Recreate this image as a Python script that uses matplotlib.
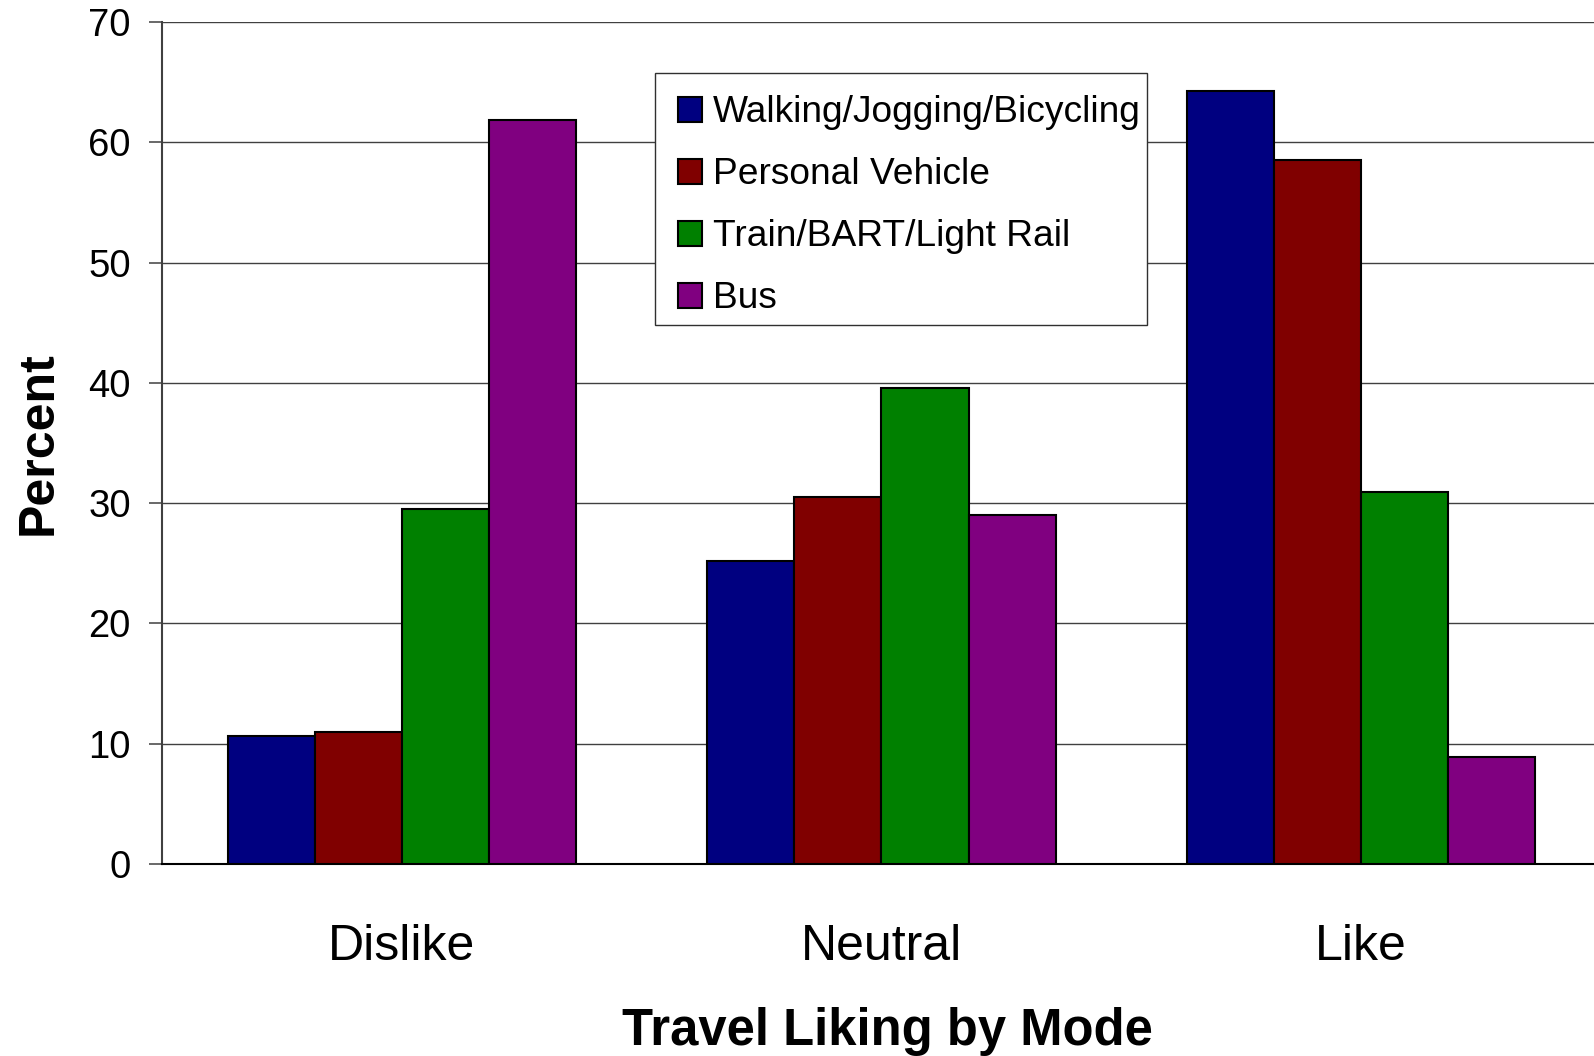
import matplotlib.pyplot as plt
import numpy as np
from matplotlib.patches import Rectangle

plt.rcParams['font.family'] = ['Liberation Sans', 'DejaVu Sans']

categories = ['Dislike', 'Neutral', 'Like']
modes = ['Walking/Jogging/Bicycling', 'Personal Vehicle',
         'Train/BART/Light Rail', 'Bus']
walking = [10.6, 25.2, 64.3]
vehicle = [10.95, 30.5, 58.5]
train = [29.5, 39.6, 30.9]
bus = [61.85, 29.0, 8.9]
colors = ['#000080', '#800000', '#008000', '#800080']

series = [walking, vehicle, train, bus]

fig = plt.figure(figsize=(15.94, 10.56), dpi=100)
ax = fig.add_axes([0.10163, 0.18182, 0.90276, 0.79735])

x = np.arange(len(categories))
w = 0.1814
bars = []
for i, (vals, c) in enumerate(zip(series, colors)):
    b = ax.bar(x + (i - 1.5) * w, vals, w, color=c, edgecolor='black',
               linewidth=1.5, zorder=3)
    bars.append(b)

ax.set_xlim(-0.5, 2.5)
ax.set_ylim(0, 70)
ax.set_yticks(range(0, 71, 10))
ax.yaxis.grid(True, color='#404040', linewidth=1.0, zorder=0)
ax.set_axisbelow(True)

ax.spines['top'].set_visible(False)
ax.spines['right'].set_visible(False)
ax.spines['left'].set_color('#404040')
ax.spines['left'].set_linewidth(1.5)
ax.spines['bottom'].set_color('black')
ax.spines['bottom'].set_linewidth(1.5)

ax.tick_params(axis='y', labelsize=27.5, length=9.4, width=1.1,
               color='#404040', pad=13)
ax.set_xticks(x)
ax.set_xticklabels(categories)
ax.tick_params(axis='x', labelsize=36, length=0, pad=43)

ax.set_xlabel('Travel Liking by Mode', fontsize=36.5, fontweight='bold',
              labelpad=26.5)
ax.xaxis.label.set_x(0.504)
ax.set_ylabel('Percent', fontsize=36, fontweight='bold', labelpad=19.3)

# legend box drawn separately so the padding can be uneven
ax.add_patch(Rectangle((0.34260, 0.64014), 0.34190, 0.29929,
                       transform=ax.transAxes, facecolor='white',
                       edgecolor='#303030', linewidth=1.0, zorder=4))
ax.legend(bars, modes, loc='upper left',
          bbox_to_anchor=(0.35824, 0.9130), borderaxespad=0,
          borderpad=0, frameon=False, fontsize=26.7,
          handlelength=0.674, handleheight=0.674, handletextpad=0.28,
          labelspacing=0.73).set_zorder(5)

fig.savefig('out.png', dpi=100)
